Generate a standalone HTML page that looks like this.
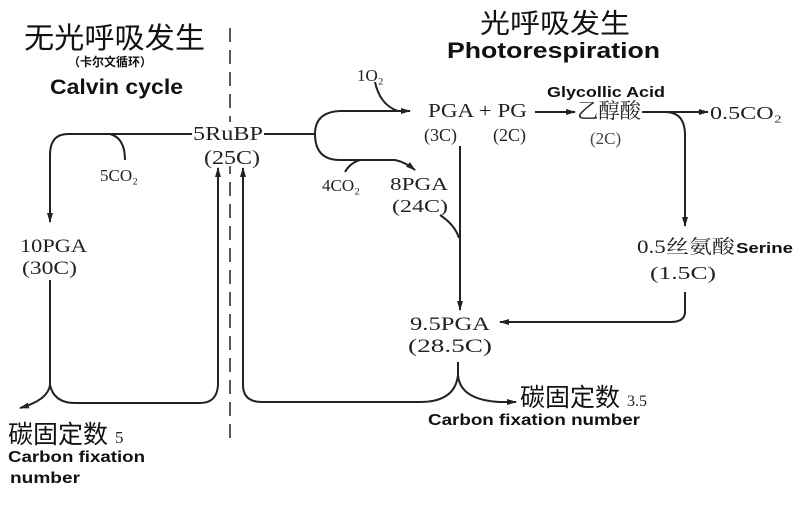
<!DOCTYPE html>
<html><head><meta charset="utf-8"><style>
body{margin:0;background:#fff;width:795px;height:512px;overflow:hidden}
svg{display:block}
.s{font-family:"Liberation Serif","Noto Serif CJK SC",serif;fill:#222}
.c{font-family:"Liberation Sans","Noto Sans CJK SC",sans-serif;fill:#111}
.b{font-family:"Liberation Sans","Noto Sans CJK SC",sans-serif;font-weight:bold;fill:#111}
path,line{stroke:#222;stroke-width:2;fill:none}
</style></head><body>
<svg width="795" height="512" viewBox="0 0 795 512">
<defs><marker id="a" markerWidth="10" markerHeight="8" refX="9" refY="4" orient="auto" markerUnits="userSpaceOnUse"><path d="M0,1 L10,4 L0,7 Z" style="fill:#222;stroke:none"/></marker></defs>
<g lengthAdjust="spacingAndGlyphs">
<text x="24" y="48" class="c" font-size="29" textLength="181" lengthAdjust="spacingAndGlyphs">无光呼吸发生</text>
<text x="68" y="66" class="b" font-size="12">（卡尔文循环）</text>
<text x="50" y="94" class="b" font-size="21" textLength="133" lengthAdjust="spacingAndGlyphs">Calvin cycle</text>
<line x1="230" y1="28" x2="230" y2="442" style="stroke-dasharray:14,8;stroke-width:1.5"/>
<rect x="194" y="122" width="70" height="44" fill="#fff"/>
<text x="480" y="33" class="c" font-size="27" textLength="150" lengthAdjust="spacingAndGlyphs">光呼吸发生</text>
<text x="447" y="58" class="b" font-size="22" textLength="213" lengthAdjust="spacingAndGlyphs">Photorespiration</text>
<text x="193" y="140" class="s" font-size="20" textLength="70" lengthAdjust="spacingAndGlyphs">5RuBP</text>
<text x="204" y="164" class="s" font-size="20" textLength="56" lengthAdjust="spacingAndGlyphs">(25C)</text>
<path d="M192,134 H68 Q50,134 50,155 V222" marker-end="url(#a)"/>
<path d="M110,134 Q125,138 125,160"/>
<text x="100" y="181" class="s" font-size="17">5CO₂</text>
<text x="20" y="252" class="s" font-size="19" textLength="67" lengthAdjust="spacingAndGlyphs">10PGA</text>
<text x="22" y="274" class="s" font-size="19" textLength="55" lengthAdjust="spacingAndGlyphs">(30C)</text>
<path d="M50,280 V385 Q48,400 20,408" marker-end="url(#a)"/>
<path d="M50,385 Q54,403 75,403 H200 Q217,403 218,385 V168" marker-end="url(#a)"/>
<path d="M458,362 V375 Q460,400 500,402" />
<path d="M500,402 L516,402" marker-end="url(#a)"/>
<path d="M458,375 Q455,402 420,402 H262 Q243,402 243,385 V168" marker-end="url(#a)"/>
<path d="M264,134 H315"/>
<path d="M315,134 Q315,112 340,111 H410" marker-end="url(#a)"/>
<path d="M375,82 Q380,105 398,111"/>
<text x="357" y="81" class="s" font-size="17">1O₂</text>
<path d="M315,134 Q315,160 340,160 H395 Q405,162 415,170" marker-end="url(#a)"/>
<path d="M360,160 Q350,163 345,172"/>
<text x="322" y="191" class="s" font-size="17">4CO₂</text>
<text x="390" y="190" class="s" font-size="18" textLength="58" lengthAdjust="spacingAndGlyphs">8PGA</text>
<text x="392" y="212" class="s" font-size="18" textLength="56" lengthAdjust="spacingAndGlyphs">(24C)</text>
<text x="428" y="117" class="s" font-size="20" textLength="99" lengthAdjust="spacingAndGlyphs">PGA + PG</text>
<text x="424" y="141" class="s" font-size="18">(3C)</text>
<text x="493" y="141" class="s" font-size="18">(2C)</text>
<path d="M535,112 H575" marker-end="url(#a)"/>
<text x="547" y="97" class="b" font-size="15" textLength="118" lengthAdjust="spacingAndGlyphs">Glycollic Acid</text>
<text x="577" y="118" class="s" font-size="21" textLength="64" lengthAdjust="spacingAndGlyphs">乙醇酸</text>
<text x="590" y="144" class="s" font-size="17" style="fill:#444">(2C)</text>
<path d="M642,112 H708" marker-end="url(#a)"/>
<text x="710" y="119" class="s" font-size="18" textLength="72" lengthAdjust="spacingAndGlyphs">0.5CO₂</text>
<path d="M665,112 Q685,112 685,135 V226" marker-end="url(#a)"/>
<text x="637" y="253" class="s" font-size="19" textLength="98" lengthAdjust="spacingAndGlyphs">0.5丝氨酸</text>
<text x="736" y="253" class="b" font-size="15" textLength="57" lengthAdjust="spacingAndGlyphs">Serine</text>
<text x="650" y="279" class="s" font-size="18" textLength="66" lengthAdjust="spacingAndGlyphs">(1.5C)</text>
<path d="M685,292 V312 Q685,322 670,322 H500" marker-end="url(#a)"/>
<path d="M460,146 V310" marker-end="url(#a)"/>
<path d="M440,215 Q455,225 459,238"/>
<text x="410" y="330" class="s" font-size="19" textLength="80" lengthAdjust="spacingAndGlyphs">9.5PGA</text>
<text x="408" y="352" class="s" font-size="19" textLength="84" lengthAdjust="spacingAndGlyphs">(28.5C)</text>
<text x="520" y="406" class="c" font-size="25">碳固定数 <tspan class="s" font-size="16">3.5</tspan></text>
<text x="428" y="425" class="b" font-size="16" textLength="212" lengthAdjust="spacingAndGlyphs">Carbon fixation number</text>
<text x="8" y="443" class="c" font-size="25">碳固定数 <tspan class="s" font-size="17">5</tspan></text>
<text x="8" y="462" class="b" font-size="16" textLength="137" lengthAdjust="spacingAndGlyphs">Carbon fixation</text>
<text x="10" y="483" class="b" font-size="16" textLength="70" lengthAdjust="spacingAndGlyphs">number</text>
</g>
</svg>
</body></html>
